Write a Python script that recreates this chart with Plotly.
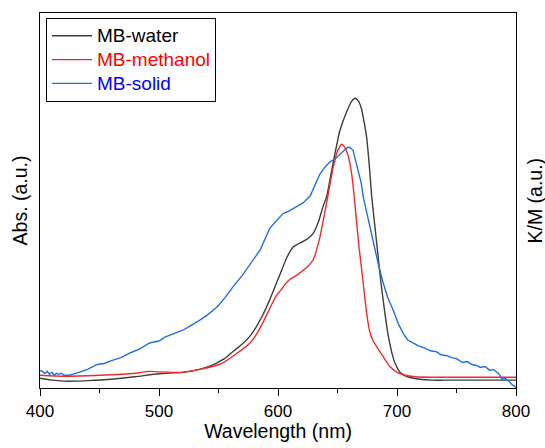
import plotly.graph_objects as go

# MB-water (wavelength nm, absorbance a.u.)
water_x = [400, 410, 420, 430, 440, 460, 480, 500, 520, 534, 542, 549, 555, 560, 565, 570,
           576.5, 582, 587, 593, 599, 601.7, 607.3, 612.8, 620, 625.5, 629.6, 633.8, 638, 641,
           646, 650, 652, 658, 662, 664.7, 667, 670, 672, 674.5, 677, 678.7, 681.5, 684, 686,
           688, 690, 692, 694, 697, 700, 702.5, 706, 710, 719, 730, 740, 800]
water_y = [10, 8, 7, 7, 7.5, 9, 11.5, 14.5, 16, 19, 22, 26, 30, 35, 40, 45,
           53, 63, 74, 90, 108, 116, 133, 144, 149, 153, 158, 169, 186, 196,
           228, 252, 263, 283, 293, 296, 294, 286, 274, 256, 223, 196, 164, 136, 113,
           93, 75, 58, 45, 30, 21, 16, 13, 11, 9, 8, 8, 8]

# MB-methanol
meth_x = [400, 420, 450, 480, 492, 500, 520, 534, 545, 554, 565, 576.5, 582, 587, 595, 599,
          601.7, 606, 610, 616.8, 624, 629.6, 635, 641, 646, 650, 653.5, 656, 659, 662, 664,
          666, 668, 670.6, 673, 675, 677, 680, 685.7, 690, 694, 700, 707, 715, 730, 800]
meth_y = [13, 12, 13, 15, 17, 16.5, 16, 19, 22, 26, 35, 46, 55, 66, 86, 95,
          99, 106, 111, 116, 123, 131, 153, 190, 223, 242, 249, 246, 237, 218, 196,
          170, 145, 118, 92, 72, 58, 48, 37, 29, 22, 16, 13, 11.5, 11, 11]

# MB-solid (K/M a.u.)
solid_x = [400, 402, 404, 406, 408, 410, 412, 414, 416, 418, 420, 425, 430, 435, 440, 448,
           454, 460, 468, 476, 484, 492, 500, 505, 512, 520, 527, 534, 541, 549, 556, 562,
           570, 576.5, 585, 593, 599, 604, 608, 612.6, 616, 621, 627, 631, 635, 639, 643.7,
           648, 652, 655, 659, 661, 663, 666, 670, 671.5, 675, 680, 684, 688, 692, 697, 701,
           705, 709, 713.5, 718, 723, 728, 733, 737, 742, 746, 750, 755, 759, 763, 767,
           770, 774, 778, 781, 784, 786, 788, 791, 794, 797, 799, 800]
solid_y = [18, 17, 15, 17, 14, 16, 13, 15, 14, 15, 13, 13, 15, 17, 19, 24,
           25, 28, 31, 36, 40, 46, 48, 52, 55, 59, 64, 69, 75, 83, 93, 103,
           115, 126, 141, 163, 171, 178, 180, 183, 186, 189, 196, 207, 218, 225, 231,
           234, 239, 242, 246, 245, 243, 229, 209, 196, 176, 149, 128, 109, 93, 79, 66,
           56, 49, 46, 43, 41, 38, 37, 34, 33, 31, 30, 26, 27, 24, 23,
           21, 22, 18, 19, 16, 14, 9, 10, 7, 3, 2, 0]

tick_vals = [400, 500, 600, 700, 800]

fig = go.Figure()
fig.add_trace(go.Scatter(x=water_x, y=water_y, mode="lines",
                         line=dict(color="#3d3d3d", width=1.4, shape="spline", smoothing=0.5),
                         name='<span style="font-size:19px;color:#000000">MB-water</span>'))
fig.add_trace(go.Scatter(x=meth_x, y=meth_y, mode="lines",
                         line=dict(color="#ee2a2a", width=1.4, shape="spline", smoothing=0.5),
                         name='<span style="font-size:19px;color:#ff0000">MB-methanol</span>'))
fig.add_trace(go.Scatter(x=solid_x, y=solid_y, mode="lines", line=dict(color="#1f6fe0", width=1.4),
                         name='<span style="font-size:19px;color:#0000ff">MB-solid</span>'))

fig.update_layout(
    width=545, height=448,
    margin=dict(l=40, r=29, t=13, b=52),
    paper_bgcolor="white", plot_bgcolor="white",
    font=dict(family="Liberation Sans, Arial, sans-serif", size=17, color="black"),
    showlegend=True,
    legend=dict(x=0.0126, y=0.987, xanchor="left", yanchor="top",
                bordercolor="black", borderwidth=1, bgcolor="white",
                font=dict(size=16), tracegroupgap=0, itemwidth=40),
    xaxis=dict(range=[400, 800], tickvals=tick_vals, ticks="outside", ticklen=7, tickwidth=1,
               tickcolor="black", showline=True, linecolor="black", linewidth=1.2, mirror=True,
               showgrid=False, zeroline=False,
               minor=dict(ticks="outside", ticklen=4, tickwidth=1, tickcolor="black", dtick=50, showgrid=False),
               title=dict(text="Wavelength (nm)", font=dict(size=19.5), standoff=2),
               tickfont=dict(size=17)),
    yaxis=dict(range=[0, 383], showticklabels=False, ticks="", showline=True, linecolor="black",
               linewidth=1.2, mirror=True, showgrid=False, zeroline=False,
               title=dict(text="Abs. (a.u.)", font=dict(size=19.5), standoff=6)),
    annotations=[dict(text="K/M (a.u.)", textangle=-90, xref="paper", yref="paper",
                      x=1.0, y=0.5, xanchor="center", yanchor="middle", xshift=18,
                      showarrow=False, font=dict(size=19.5))],
)

fig.write_html("out.html")
